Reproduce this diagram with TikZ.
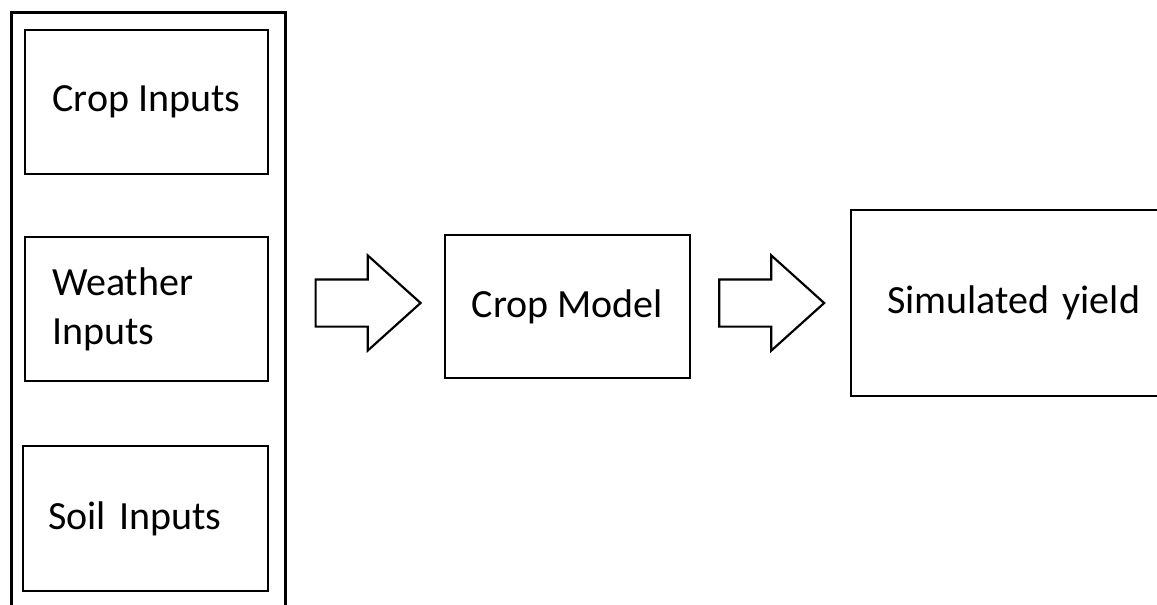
\documentclass[tikz,border=0pt]{standalone}
\usepackage{fontspec}
\setmainfont{Carlito}
\usetikzlibrary{shapes.arrows, positioning, calc}

\begin{document}
\begin{tikzpicture}[x=1pt,y=-1pt,
    box/.style={draw, line width=1.5pt, inner sep=0pt},
    blockarrow/.style={draw, line width=1.3pt, single arrow, anchor=tail,
        minimum height=63pt, minimum width=55.8pt, inner xsep=0pt, inner ysep=13.5pt,
        single arrow head extend=14.4pt, single arrow head indent=0pt,
        single arrow tip angle=84},
    font=\fontsize{24}{29.4}\selectfont]

\useasboundingbox (0,0) rectangle (694.2,362.4);

% inputs column
\node[box, line width=1.8pt, minimum width=164.4pt, minimum height=376.8pt] (inputs) at (88.8,195.6) {};
\node[box, minimum width=145.8pt, minimum height=86.4pt] (cropin) at (87.9,61.2) {Crop Inputs};
\node[box, minimum width=145.8pt, minimum height=86.4pt,
    text width=113.4pt, inner xsep=16.2pt, align=left] (weather) at (87.9,185.4) {Weather\\Inputs};
\node[box, minimum width=147pt, minimum height=87pt,
    text width=117pt, inner xsep=15pt, align=left] (soil) at (87.3,311.1) {Soil Inputs};

% model and output
\node[box, line width=1.3pt, minimum width=147pt, minimum height=85.8pt] (model) at (340.5,183.9) {Crop Model};
\node[box, line width=1.4pt, minimum width=216pt, minimum height=111.6pt,
    text width=172.8pt, inner xsep=21.6pt, align=left] (yield) at (618.6,181.8) {Simulated yield};

\node[blockarrow] (arrow1) at ($(inputs.east |- yield.center)+(16.8,0)$) {};
\node[blockarrow] (arrow2) at ($(model.east |- yield.center)+(16.2,0)$) {};

\end{tikzpicture}
\end{document}
